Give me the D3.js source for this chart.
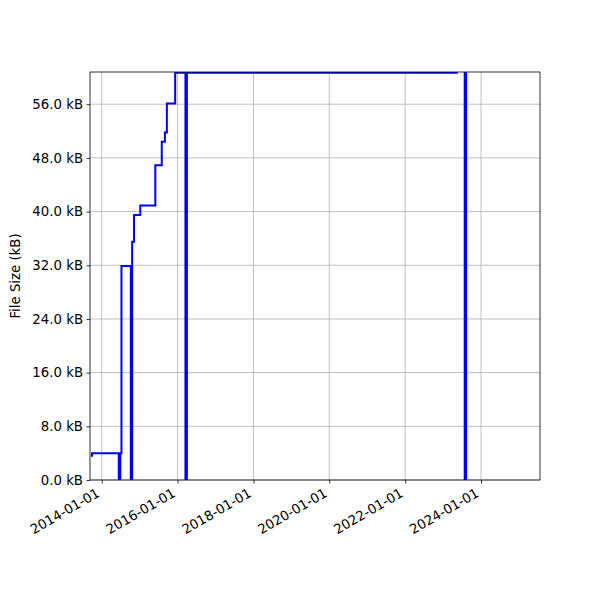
<!DOCTYPE html>
<html>
<head>
<meta charset="utf-8">
<script src="https://cdn.jsdelivr.net/npm/d3@7"></script>
<style>
  html, body { margin: 0; padding: 0; background: #ffffff; }
  svg { display: block; }
  text { font-family: "DejaVu Sans", sans-serif; fill: #000; }
</style>
</head>
<body>
<div id="chart"></div>
<script>
// ---- data ----
const dates = [
  "2013-09-20","2013-09-29","2014-06-14","2014-06-29","2014-07-10",
  "2014-10-08","2014-10-21","2014-11-08","2015-01-07","2015-06-01",
  "2015-08-02","2015-09-01","2015-09-20","2015-12-09","2016-03-17",
  "2016-03-31","2023-05-14","2023-07-28","2023-08-11","2025-07-22"
];
const sizesKB = [
  3.6, 4.0, 0, 4.0, 31.9,
  0, 35.5, 39.5, 40.9, 46.9,
  50.4, 51.8, 56.1, 60.7, 0,
  60.7, 64.0, 0, 64.0, 64.0
];
const yTicks = [0, 8, 16, 24, 32, 40, 48, 56];
const xTickLabels = ["2014-01-01","2016-01-01","2018-01-01","2020-01-01","2022-01-01","2024-01-01"];
const xDomain = ["2013-09-10", "2025-07-22"];
const yDomain = [0, 60.8];
const yLabel = "File Size (kB)";

// ---- layout ----
const W = 600, H = 600;
const m = { left: 90, right: 60, top: 72, bottom: 120 };
const parse = d3.utcParse("%Y-%m-%d");
const fs = 13.3;

const svg = d3.select("#chart").append("svg")
  .attr("width", W).attr("height", H);

const x = d3.scaleUtc().domain(xDomain.map(parse)).range([m.left, W - m.right]);
const y = d3.scaleLinear().domain(yDomain).range([H - m.bottom, m.top]);

const data = dates.map((d, i) => ({ t: parse(d), v: sizesKB[i] }));
const xt = xTickLabels.map(parse);

// clip
svg.append("defs").append("clipPath").attr("id", "clip")
  .append("rect").attr("x", m.left).attr("y", m.top)
  .attr("width", W - m.left - m.right).attr("height", H - m.top - m.bottom);

// grid
const grid = svg.append("g").attr("stroke", "#b0b0b0").attr("stroke-width", 0.8);
grid.selectAll("line.gx").data(xt).join("line")
  .attr("x1", d => x(d)).attr("x2", d => x(d))
  .attr("y1", m.top).attr("y2", H - m.bottom);
grid.selectAll("line.gy").data(yTicks).join("line")
  .attr("x1", m.left).attr("x2", W - m.right)
  .attr("y1", d => y(d)).attr("y2", d => y(d));

// line
const line = d3.line().x(d => x(d.t)).y(d => y(d.v)).curve(d3.curveStepAfter);
svg.append("path").datum(data)
  .attr("clip-path", "url(#clip)")
  .attr("fill", "none").attr("stroke", "#0000ff")
  .attr("stroke-width", 2).attr("stroke-linejoin", "miter")
  .attr("d", line);

// axes
const xAxis = svg.append("g").attr("transform", `translate(0,${H - m.bottom})`)
  .call(d3.axisBottom(x).tickValues(xt).tickSize(3.5).tickPadding(3.5).tickFormat(d3.utcFormat("%Y-%m-%d")));
xAxis.select(".domain").remove();
xAxis.selectAll(".tick line").attr("stroke", "#000").attr("stroke-width", 0.8);
xAxis.selectAll(".tick text")
  .attr("font-size", fs).attr("font-family", "DejaVu Sans")
  .attr("text-anchor", "end")
  .attr("dy", null).attr("y", null)
  .attr("transform", `translate(${-0.24 * fs / 2},${7 + 0.866 * 0.76 * fs}) rotate(-30)`);

const yAxis = svg.append("g").attr("transform", `translate(${m.left},0)`)
  .call(d3.axisLeft(y).tickValues(yTicks).tickSize(3.5).tickPadding(3.5).tickFormat(d => d3.format(".1f")(d) + " kB"));
yAxis.select(".domain").remove();
yAxis.selectAll(".tick line").attr("stroke", "#000").attr("stroke-width", 0.8);
yAxis.selectAll(".tick text").attr("font-size", fs).attr("font-family", "DejaVu Sans");

// spines
svg.append("rect")
  .attr("x", m.left).attr("y", m.top)
  .attr("width", W - m.left - m.right).attr("height", H - m.top - m.bottom)
  .attr("fill", "none").attr("stroke", "#000").attr("stroke-width", 0.8);

// y label
svg.append("text")
  .attr("transform", `translate(20,${(m.top + H - m.bottom) / 2}) rotate(-90)`)
  .attr("text-anchor", "middle")
  .attr("font-size", fs)
  .text(yLabel);
</script>
</body>
</html>
